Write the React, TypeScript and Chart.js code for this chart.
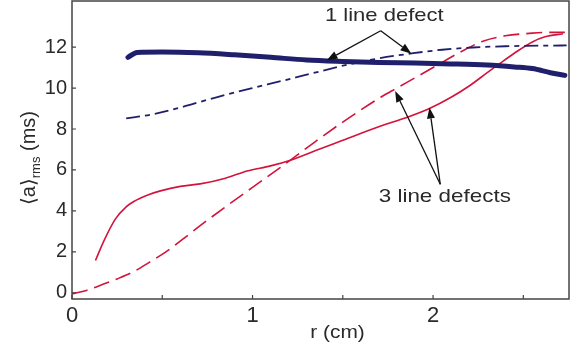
import { useEffect, useRef } from "react";
import { Chart, registerables } from "chart.js";

Chart.register(...registerables);

// ---- data (r in cm, <a>rms in ms) ----
const xLabelTicks = [0, 1, 2];
const xMinorTicks = [0, 0.5, 1, 1.5, 2, 2.5];
const yTicks = [0, 2, 4, 6, 8, 10, 12];

const oneSolidR = [0.31, 0.36, 0.5, 0.7, 0.9, 1.1, 1.3, 1.5, 1.7, 1.9, 2.1, 2.3, 2.45, 2.55, 2.65, 2.73];
const oneSolidV = [11.5, 11.74, 11.76, 11.72, 11.62, 11.5, 11.37, 11.3, 11.25, 11.22, 11.18, 11.12, 11.03, 10.95, 10.75, 10.62];

const oneDashDotR = [0.3, 0.45, 0.6, 0.8, 1.0, 1.15, 1.3, 1.52, 1.7, 1.89, 2.05, 2.22, 2.4, 2.6, 2.74];
const oneDashDotV = [8.52, 8.72, 9.05, 9.55, 10.0, 10.32, 10.65, 11.13, 11.45, 11.7, 11.87, 11.98, 12.04, 12.07, 12.08];

const threeSolidR = [0.13, 0.18, 0.24, 0.3, 0.34, 0.42, 0.49, 0.6, 0.71, 0.85, 0.97, 1.1, 1.21, 1.35, 1.5, 1.71, 1.85, 1.98, 2.1, 2.2, 2.3, 2.37, 2.45, 2.55, 2.62, 2.72];
const threeSolidV = [1.58, 2.6, 3.6, 4.2, 4.45, 4.78, 4.98, 5.2, 5.32, 5.6, 5.95, 6.2, 6.48, 6.95, 7.45, 8.15, 8.55, 9.0, 9.55, 10.1, 10.75, 11.2, 11.7, 12.25, 12.5, 12.65];

const threeDashR = [0.0, 0.08, 0.155, 0.25, 0.34, 0.43, 0.52, 0.64, 0.71, 0.85, 1.0, 1.21, 1.35, 1.52, 1.71, 1.8, 1.92, 2.04, 2.16, 2.28, 2.4, 2.55, 2.65, 2.73];
const threeDashV = [-0.05, 0.12, 0.36, 0.68, 1.03, 1.5, 2.0, 2.8, 3.28, 4.2, 5.15, 6.48, 7.4, 8.46, 9.55, 10.0, 10.6, 11.2, 11.8, 12.3, 12.55, 12.68, 12.72, 12.72];

// annotation labels: text, anchor (data coords), arrow apex, arrow tips
const annOneText = "1 line defect";
const annOneAt = [1.73, 13.25];
const annOneApex = [1.71, 12.8];
const annOneTips = [[1.41, 11.35], [1.88, 11.68]];

const annThreeText = "3 line defects";
const annThreeAt = [2.065, 4.45];
const annThreeApex = [2.04, 5.3];
const annThreeTips = [[1.79, 9.85], [1.98, 9.05]];

const pts = (r: number[], v: number[]) => r.map((x, i) => ({ x, y: v[i] }));

const NAVY = "#1f1f6b";
const RED = "#d2143c";
const AXIS = "#444444";
const TEXT = "#2a2a2a";
const FONT = "'Liberation Sans', Arial, 'DejaVu Sans', sans-serif";

function drawArrow(ctx: CanvasRenderingContext2D, x0: number, y0: number, x1: number, y1: number) {
  const ang = Math.atan2(y1 - y0, x1 - x0);
  const hl = 11, hw = 4;
  const bx = x1 - hl * Math.cos(ang), by = y1 - hl * Math.sin(ang);
  ctx.beginPath();
  ctx.moveTo(x0, y0);
  ctx.lineTo(bx, by);
  ctx.stroke();
  ctx.beginPath();
  ctx.moveTo(x1, y1);
  ctx.lineTo(bx + hw * Math.sin(ang), by - hw * Math.cos(ang));
  ctx.lineTo(bx - hw * Math.sin(ang), by + hw * Math.cos(ang));
  ctx.closePath();
  ctx.fill();
}

function stretchedText(ctx: CanvasRenderingContext2D, txt: string, x: number, y: number, sx: number) {
  ctx.save();
  ctx.translate(x, y);
  ctx.scale(sx, 1);
  ctx.fillText(txt, 0, 0);
  ctx.restore();
}

const decorPlugin = {
  id: "decor",
  afterDraw(chart: any) {
    const { ctx, chartArea: a, scales } = chart;
    const xs = scales.x, ys = scales.y;
    ctx.save();
    // frame
    ctx.strokeStyle = AXIS;
    ctx.lineWidth = 1.5;
    ctx.strokeRect(a.left, a.top, a.right - a.left, a.bottom - a.top);
    // inward ticks
    ctx.lineWidth = 1.2;
    ctx.beginPath();
    xMinorTicks.forEach((v) => {
      const px = xs.getPixelForValue(v);
      ctx.moveTo(px, a.bottom);
      ctx.lineTo(px, a.bottom - 4);
    });
    yTicks.forEach((v) => {
      const py = ys.getPixelForValue(v);
      ctx.moveTo(a.left, py);
      ctx.lineTo(a.left + 4, py);
    });
    ctx.stroke();

    // x title
    ctx.fillStyle = TEXT;
    ctx.font = `19px ${FONT}`;
    ctx.textAlign = "center";
    ctx.textBaseline = "middle";
    stretchedText(ctx, "r (cm)", (a.left + a.right) / 2 + 17, 333, 1.1);

    // y title with subscript, rotated
    ctx.save();
    ctx.translate(35, 158);
    ctx.rotate(-Math.PI / 2);
    ctx.textAlign = "left";
    ctx.textBaseline = "alphabetic";
    const big = `20px ${FONT}`, small = `13px ${FONT}`;
    const p1 = "\u27E8a\u27E9", p2 = "rms", p3 = " (ms)";
    ctx.font = big;
    const w1 = ctx.measureText(p1).width;
    const w3 = ctx.measureText(p3).width;
    ctx.font = small;
    const w2 = ctx.measureText(p2).width;
    let sx = -(w1 + w2 + w3) / 2;
    ctx.font = big;
    ctx.fillText(p1, sx, 0);
    sx += w1;
    ctx.font = small;
    ctx.fillText(p2, sx, 5);
    sx += w2;
    ctx.font = big;
    ctx.fillText(p3, sx, 0);
    ctx.restore();

    // annotations
    ctx.strokeStyle = "#111111";
    ctx.fillStyle = "#111111";
    ctx.lineWidth = 1.3;
    const px = (p: number[]) => [xs.getPixelForValue(p[0]), ys.getPixelForValue(p[1])];
    const ap1 = px(annOneApex);
    annOneTips.forEach((t) => { const q = px(t); drawArrow(ctx, ap1[0], ap1[1], q[0], q[1]); });
    const ap3 = px(annThreeApex);
    annThreeTips.forEach((t) => { const q = px(t); drawArrow(ctx, ap3[0], ap3[1], q[0], q[1]); });

    ctx.fillStyle = TEXT;
    ctx.font = `19px ${FONT}`;
    ctx.textAlign = "center";
    ctx.textBaseline = "alphabetic";
    const t1 = px(annOneAt);
    stretchedText(ctx, annOneText, t1[0], t1[1], 1.16);
    const t3 = px(annThreeAt);
    stretchedText(ctx, annThreeText, t3[0], t3[1], 1.18);
    ctx.restore();
  },
};

export default function App() {
  const ref = useRef<HTMLCanvasElement | null>(null);
  useEffect(() => {
    if (!ref.current) return;
    const chart = new Chart(ref.current, {
      type: "line",
      data: {
        datasets: [
          {
            label: "1 line defect (solid)",
            data: pts(oneSolidR, oneSolidV),
            borderColor: NAVY,
            borderWidth: 5,
            pointRadius: 0,
            cubicInterpolationMode: "monotone",
            borderCapStyle: "round",
          },
          {
            label: "1 line defect (dash-dot)",
            data: pts(oneDashDotR, oneDashDotV),
            borderColor: NAVY,
            borderWidth: 1.8,
            borderDash: [14, 5, 5, 5],
            pointRadius: 0,
            cubicInterpolationMode: "monotone",
          },
          {
            label: "3 line defects (solid)",
            data: pts(threeSolidR, threeSolidV),
            borderColor: RED,
            borderWidth: 1.6,
            pointRadius: 0,
            cubicInterpolationMode: "monotone",
          },
          {
            label: "3 line defects (dashed)",
            data: pts(threeDashR, threeDashV),
            borderColor: RED,
            borderWidth: 1.6,
            borderDash: [16, 7],
            pointRadius: 0,
            cubicInterpolationMode: "monotone",
          },
        ],
      },
      options: {
        animation: false,
        responsive: false,
        devicePixelRatio: 1,
        layout: { padding: { top: 1, right: 15, left: 0, bottom: 0 } },
        plugins: { legend: { display: false }, tooltip: { enabled: false } },
        scales: {
          x: {
            type: "linear",
            min: 0,
            max: 2.753,
            grid: { display: false, drawTicks: false },
            border: { display: false },
            afterFit: (s: any) => { s.height = 53; s.paddingLeft = 0; s.paddingRight = 0; },
            afterBuildTicks: (s: any) => { s.ticks = xLabelTicks.map((v) => ({ value: v })); },
            ticks: {
              autoSkip: false,
              maxRotation: 0,
              padding: 4,
              color: TEXT,
              font: { family: FONT, size: 22 },
              callback: (v: any) => String(v),
            },
          },
          y: {
            type: "linear",
            min: -0.3,
            max: 14.25,
            grid: { display: false, drawTicks: false },
            border: { display: false },
            afterFit: (s: any) => { s.width = 72; s.paddingTop = 0; s.paddingBottom = 0; },
            afterBuildTicks: (s: any) => { s.ticks = yTicks.map((v) => ({ value: v })); },
            ticks: {
              autoSkip: false,
              padding: 5,
              color: TEXT,
              font: { family: FONT, size: 20 },
              callback: (v: any) => String(v),
            },
          },
        },
      },
      plugins: [decorPlugin],
    } as any);
    return () => chart.destroy();
  }, []);
  return (
    <div style={{ position: "fixed", left: 0, top: 0, width: 584, height: 352, background: "#fff" }}>
      <canvas ref={ref} width={584} height={352} />
    </div>
  );
}
